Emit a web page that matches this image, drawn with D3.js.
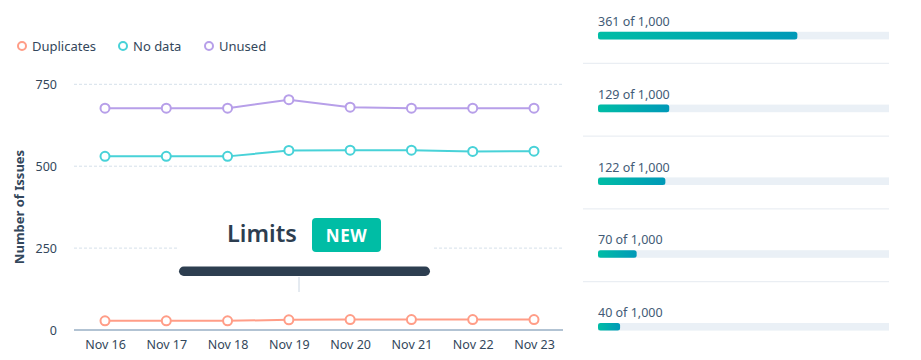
<!DOCTYPE html>
<html>
<head>
<meta charset="utf-8">
<script src="https://cdn.jsdelivr.net/npm/d3@7"></script>
<style>
  html, body { margin: 0; padding: 0; background: #fff; }
  svg { display: block; font-family: "Noto Sans", "DejaVu Sans", sans-serif; }
</style>
</head>
<body>
<svg id="chart" width="921" height="360"></svg>
<script>
const dates = ["Nov 16", "Nov 17", "Nov 18", "Nov 19", "Nov 20", "Nov 21", "Nov 22", "Nov 23"];
const seriesNames = ["Duplicates", "No data", "Unused"];
const duplicates = [28, 28, 28, 31, 32, 32, 32, 32];
const noData = [530, 530, 530, 548, 549, 549, 545, 546];
const unused = [677, 677, 677, 703, 680, 677, 677, 677];
const yTicks = [0, 250, 500, 750];
const usageValues = [361, 129, 122, 70, 40];
const usageLimit = 1000;
const colors = ["#ff9d87", "#48d2d8", "#b79fe9"];

const svg = d3.select("#chart");
const textColor = "#33475b";

// ---- Line chart ----
const plotLeft = 74, plotRight = 563;
const x = d3.scalePoint().domain(dates).range([105, 534]);
const y = d3.scaleLinear().domain([0, 750]).range([330, 84.3]);

// gridlines
const grid = svg.append("g");
yTicks.filter(t => t > 0).forEach(t => {
  grid.append("line")
    .attr("x1", plotLeft).attr("x2", plotRight)
    .attr("y1", y(t)).attr("y2", y(t))
    .attr("stroke", "#d5e0ea").attr("stroke-width", 1)
    .attr("stroke-dasharray", "3,2");
});

// y axis labels
const yAxis = d3.axisLeft(y).tickValues(yTicks).tickSize(0).tickPadding(0);
const gy = svg.append("g").attr("transform", "translate(57,0)").call(yAxis);
gy.select(".domain").remove();
gy.selectAll("text").attr("fill", textColor).attr("font-size", 12.5)
  .attr("font-family", "'Noto Sans', sans-serif");

// x axis
const xAxis = d3.axisBottom(x).tickSize(0).tickPadding(10);
const gx = svg.append("g").attr("transform", `translate(0,${y(0)})`).call(xAxis);
gx.select(".domain").remove();
gx.append("line").attr("x1", plotLeft).attr("x2", plotRight)
  .attr("stroke", "#99afc4").attr("stroke-width", 1.5);
gx.selectAll("text").attr("fill", textColor).attr("font-size", 12.5)
  .attr("font-family", "'Noto Sans', sans-serif");

// axis title
svg.append("text")
  .attr("transform", "translate(24,207) rotate(-90)")
  .attr("text-anchor", "middle")
  .attr("font-size", 13).attr("font-weight", "bold")
  .attr("fill", textColor)
  .text("Number of Issues");

// lines
const allSeries = [duplicates, noData, unused];
const line = d3.line().x((d, i) => x(dates[i])).y(d => y(d));
allSeries.forEach((s, k) => {
  const g = svg.append("g");
  g.append("path").datum(s).attr("d", line)
    .attr("fill", "none").attr("stroke", colors[k]).attr("stroke-width", 2);
  g.selectAll("circle").data(s).join("circle")
    .attr("cx", (d, i) => x(dates[i])).attr("cy", d => y(d))
    .attr("r", 4.5).attr("fill", "#fff")
    .attr("stroke", colors[k]).attr("stroke-width", 2);
});

// legend
const legendX = [22, 123, 209];
seriesNames.forEach((n, k) => {
  svg.append("circle").attr("cx", legendX[k]).attr("cy", 46).attr("r", 4)
    .attr("fill", "#fff").attr("stroke", colors[k]).attr("stroke-width", 2);
  svg.append("text").attr("x", legendX[k] + 10).attr("y", 50.5)
    .attr("font-size", 13).attr("fill", textColor).text(n);
});

// ---- Limits overlay ----
svg.append("rect").attr("x", 177).attr("y", 212).attr("width", 255).attr("height", 52)
  .attr("fill", "#fff");
svg.append("text").attr("x", 227).attr("y", 242)
  .attr("font-size", 23.5).attr("font-weight", 600).attr("fill", "#2d3e50")
  .attr("font-family", "'Noto Sans', sans-serif")
  .text("Limits");
svg.append("rect").attr("x", 312).attr("y", 218).attr("width", 69).attr("height", 34)
  .attr("rx", 4).attr("fill", "#00bda5");
svg.append("text").attr("x", 346.5).attr("y", 241.5).attr("text-anchor", "middle")
  .attr("font-size", 17).attr("font-weight", "bold").attr("fill", "#fff")
  .attr("letter-spacing", 0.5)
  .text("NEW");
svg.append("rect").attr("x", 179).attr("y", 266.5).attr("width", 251).attr("height", 9.5)
  .attr("rx", 4.75).attr("fill", "#2d3e50");
svg.append("line").attr("x1", 299).attr("x2", 299).attr("y1", 277).attr("y2", 292)
  .attr("stroke", "#cbd6e2").attr("stroke-width", 1);

// ---- Usage bars ----
const defs = svg.append("defs");
const grad = defs.append("linearGradient").attr("id", "barGrad")
  .attr("x1", "0%").attr("x2", "100%").attr("y1", "0%").attr("y2", "0%");
grad.append("stop").attr("offset", "0%").attr("stop-color", "#00bda5");
grad.append("stop").attr("offset", "100%").attr("stop-color", "#0099b8");

const trackX0 = 598, trackX1 = 889;
const w = d3.scaleLinear().domain([0, 527]).range([0, trackX1 - trackX0]);
const rowY = d3.scaleLinear().domain([0, 1]).range([26, 98.8]);
const fmt = d3.format(",");

usageValues.forEach((v, i) => {
  const by = rowY(i);
  svg.append("text").attr("x", trackX0).attr("y", by)
    .attr("font-size", 12.5).attr("fill", "#425b76")
    .text(`${v} of ${fmt(usageLimit)}`);
  svg.append("rect").attr("x", trackX0).attr("y", by + 5.8).attr("width", trackX1 - trackX0)
    .attr("height", 7.6).attr("fill", "#eaf0f6");
  svg.append("rect").attr("x", trackX0).attr("y", by + 5.8).attr("width", w(v))
    .attr("height", 7.6).attr("rx", 2.5).attr("fill", "url(#barGrad)");
  if (i < usageValues.length - 1) {
    svg.append("line").attr("x1", 583).attr("x2", trackX1)
      .attr("y1", by + 37.3).attr("y2", by + 37.3)
      .attr("stroke", "#e5eaf0").attr("stroke-width", 1);
  }
});
</script>
</body>
</html>
